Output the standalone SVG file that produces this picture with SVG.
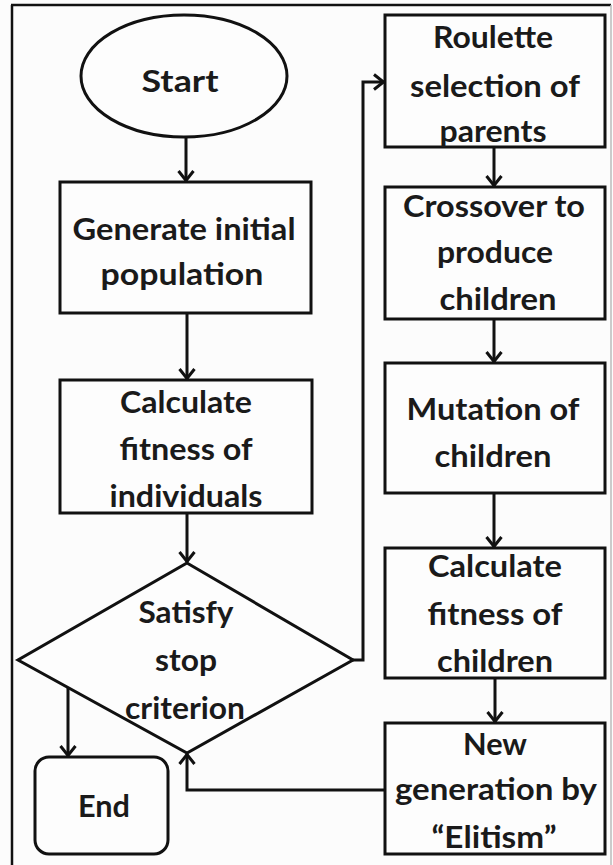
<svg xmlns="http://www.w3.org/2000/svg" width="613" height="865" viewBox="0 0 613 865">
<defs>
<style>
.bg{fill:#fcfcfc}
.frame{stroke:#111;stroke-width:2.5;fill:none}
.shape{fill:#fdfdfd;stroke:#111;stroke-width:3}
.conn{fill:none;stroke:#111;stroke-width:3}
text{font-family:"Lato","Open Sans","Liberation Sans",sans-serif;font-weight:700;font-size:31px;fill:#1a1a1a;text-anchor:middle}
</style>
<marker id="arr" markerUnits="userSpaceOnUse" viewBox="0 0 12 18" refX="11" refY="9" markerWidth="12" markerHeight="18" orient="auto">
<path d="M1,1.5 L10.5,9 L1,16.5" fill="none" stroke="#111" stroke-width="3"/>
</marker>
</defs>
<rect class="bg" x="0" y="0" width="613" height="865"/>
<g id="frame">
<line class="frame" x1="12" y1="5" x2="12" y2="865"/>
<line class="frame" x1="11" y1="5" x2="611" y2="5"/>
<line x1="611" y1="5" x2="611" y2="865" stroke="#bbb" stroke-width="1.5"/>
</g>
<g id="connectors">
<line class="conn" x1="186" y1="138" x2="186" y2="181" marker-end="url(#arr)"/>
<line class="conn" x1="187" y1="313" x2="187" y2="379" marker-end="url(#arr)"/>
<line class="conn" x1="187" y1="513" x2="187" y2="562" marker-end="url(#arr)"/>
<polyline class="conn" points="352,660 363,660 363,82 384,82" marker-end="url(#arr)"/>
<line class="conn" x1="494" y1="147" x2="494" y2="186" marker-end="url(#arr)"/>
<line class="conn" x1="494" y1="319" x2="494" y2="362" marker-end="url(#arr)"/>
<line class="conn" x1="494" y1="493" x2="494" y2="547" marker-end="url(#arr)"/>
<line class="conn" x1="495" y1="678" x2="495" y2="722" marker-end="url(#arr)"/>
<polyline class="conn" points="385,790 187,790 187,754" marker-end="url(#arr)"/>
<line class="conn" x1="68" y1="688" x2="68" y2="756" marker-end="url(#arr)"/>
</g>
<g id="start">
<ellipse class="shape" cx="184" cy="76" rx="103" ry="61"/>
<text x="180" y="92" textLength="77" lengthAdjust="spacingAndGlyphs">Start</text>
</g>
<g id="generate">
<rect class="shape" x="60" y="182" width="251" height="131"/>
<text x="184" y="240" textLength="223" lengthAdjust="spacingAndGlyphs">Generate initial</text>
<text x="182" y="285" textLength="163" lengthAdjust="spacingAndGlyphs">population</text>
</g>
<g id="calc-individuals">
<rect class="shape" x="60" y="380" width="252" height="133"/>
<text x="186" y="413" textLength="132" lengthAdjust="spacingAndGlyphs">Calculate</text>
<text x="186" y="460" textLength="133" lengthAdjust="spacingAndGlyphs">fitness of</text>
<text x="186" y="507" textLength="153" lengthAdjust="spacingAndGlyphs">individuals</text>
</g>
<g id="decision">
<polygon class="shape" points="187,563 353,660 187,753 18,660"/>
<text x="186" y="623" textLength="95" lengthAdjust="spacingAndGlyphs">Satisfy</text>
<text x="186" y="671" textLength="62" lengthAdjust="spacingAndGlyphs">stop</text>
<text x="185" y="719" textLength="120" lengthAdjust="spacingAndGlyphs">criterion</text>
</g>
<g id="end">
<rect class="shape" x="35" y="757" width="133" height="97" rx="14" ry="14"/>
<text x="104" y="817" textLength="52" lengthAdjust="spacingAndGlyphs">End</text>
</g>
<g id="roulette">
<rect class="shape" x="385" y="15" width="220" height="132"/>
<text x="493" y="48" textLength="120" lengthAdjust="spacingAndGlyphs">Roulette</text>
<text x="495" y="97" textLength="170" lengthAdjust="spacingAndGlyphs">selection of</text>
<text x="493" y="142" textLength="107" lengthAdjust="spacingAndGlyphs">parents</text>
</g>
<g id="crossover">
<rect class="shape" x="385" y="187" width="220" height="132"/>
<text x="494" y="217" textLength="182" lengthAdjust="spacingAndGlyphs">Crossover to</text>
<text x="495" y="263" textLength="116" lengthAdjust="spacingAndGlyphs">produce</text>
<text x="498" y="310" textLength="117" lengthAdjust="spacingAndGlyphs">children</text>
</g>
<g id="mutation">
<rect class="shape" x="385" y="363" width="220" height="130"/>
<text x="493" y="420" textLength="173" lengthAdjust="spacingAndGlyphs">Mutation of</text>
<text x="493" y="467" textLength="117" lengthAdjust="spacingAndGlyphs">children</text>
</g>
<g id="calc-children">
<rect class="shape" x="385" y="548" width="220" height="130"/>
<text x="495" y="577" textLength="134" lengthAdjust="spacingAndGlyphs">Calculate</text>
<text x="495" y="625" textLength="135" lengthAdjust="spacingAndGlyphs">fitness of</text>
<text x="495" y="672" textLength="116" lengthAdjust="spacingAndGlyphs">children</text>
</g>
<g id="new-generation">
<rect class="shape" x="385" y="723" width="220" height="131"/>
<text x="495" y="755" textLength="64" lengthAdjust="spacingAndGlyphs">New</text>
<text x="496" y="800" textLength="202" lengthAdjust="spacingAndGlyphs">generation by</text>
<text x="494" y="848" textLength="125" lengthAdjust="spacingAndGlyphs">“Elitism”</text>
</g>
</svg>
